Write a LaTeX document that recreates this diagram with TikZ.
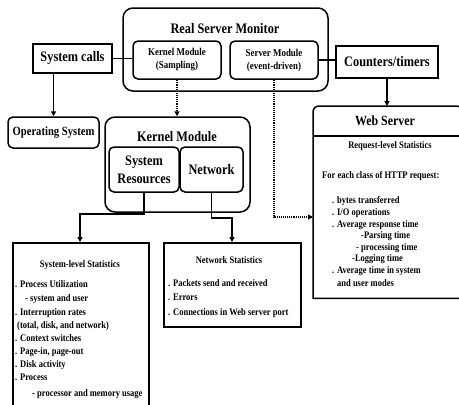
\documentclass[tikz,border=0pt]{standalone}
\usepackage{fontspec}
\setmainfont{Liberation Serif}[FakeStretch=0.85]
\usetikzlibrary{arrows.meta}
\begin{document}
\begin{tikzpicture}[x=1pt,y=-1pt,
  box/.style={draw, line width=1.5pt, inner sep=0pt},
  rbox/.style={box, rounded corners=5pt},
  big/.style={font=\fontsize{14.5}{18}\selectfont\bfseries},
  mid/.style={font=\fontsize{10.5}{13}\selectfont\bfseries},
  txt/.style={font=\fontsize{10}{12}\selectfont\bfseries, inner sep=0pt, anchor=base west},
  ttl/.style={font=\fontsize{10}{12}\selectfont\bfseries, inner sep=0pt, anchor=base},
  conn/.style={line width=1.8pt},
  arr/.style={conn, -{Triangle[length=5pt,width=5pt]}},
  dotconn/.style={line width=1.4pt, dash pattern=on 1pt off 0.9pt, -{Triangle[length=5pt,width=5pt]}}
]
\useasboundingbox (0,0) rectangle (459,405);

% Real Server Monitor
\node[box, rounded corners=10pt, minimum width=205pt, minimum height=83pt] (rsm) at (225.5,49.5) {};
\node[big] (rsmt) at (225,29) {Real Server Monitor};
\node[rbox, mid, minimum width=88pt, minimum height=38pt, align=center] (kms) at (177,60) {Kernel Module\\(Sampling)};
\node[rbox, mid, minimum width=88pt, minimum height=38pt, align=center] (sm) at (274,60) {Server Module\\(event-driven)};

\node[box, big, minimum width=79pt, minimum height=29pt] (sc) at (72.5,58.5) {System calls};
\node[box, big, minimum width=102pt, minimum height=32pt] (ct) at (387,62) {Counters/timers};
\node[rbox, font=\fontsize{12.5}{14}\selectfont\bfseries, minimum width=91pt, minimum height=31pt] (os) at (53.5,132.5) {Operating System};

% Kernel Module
\node[box, rounded corners=10pt, minimum width=145pt, minimum height=95pt] (km) at (177.5,164.5) {};
\node[big] (kmt) at (177,137) {Kernel Module};
\node[rbox, big, minimum width=70pt, minimum height=45pt, align=center] (sr) at (144,169.5) {System\\Resources};
\node[rbox, big, minimum width=63pt, minimum height=45pt] (nw) at (211.5,169.5) {Network};

% Web Server
\node[minimum width=149pt, minimum height=192pt, inner sep=0pt, anchor=north west] (ws) at (313,106) {};
\draw[line width=1.5pt] (ws.south west) [rounded corners=6pt] -- (ws.north west) -- (ws.north east) [sharp corners] -- (ws.south east) -- cycle;
\coordinate (wsh) at (313,136);
\draw[line width=1.5pt] (wsh) -- (wsh -| ws.east);
\node[font=\fontsize{14}{16}\selectfont\bfseries] (wst) at (385,121) {Web Server};
\node[ttl] (w0) at (390,148) {Request-level Statistics};
\node[txt] (w1) at (322,178) {For each class of HTTP request:};
\node[txt] (w2) at (332,203) {. bytes transferred};
\node[txt] (w3) at (332,215) {. I/O operations};
\node[txt] (w4) at (332,227) {. Average response time};
\node[txt] (w5) at (361,238) {-Parsing time};
\node[txt] (w6) at (356,250) {- processing time};
\node[txt] (w7) at (352,261) {-Logging time};
\node[txt] (w8) at (332,273) {. Average time in system};
\node[txt] (w9) at (337,286) {and user modes};

% System-level Statistics
\node[box, minimum width=136pt, minimum height=172pt, anchor=north west] (sls) at (12,242) {};
\node[ttl] (s0) at (80,267) {System-level Statistics};
\node[txt] (s1) at (15,287) {. Process Utilization};
\node[txt] (s2) at (25,301) {- system and user};
\node[txt] (s3) at (15,315) {. Interruption rates};
\node[txt] (s4) at (17,328) {(total, disk, and network)};
\node[txt] (s5) at (15,341) {. Context switches};
\node[txt] (s6) at (15,354) {. Page-in, page-out};
\node[txt] (s7) at (15,367) {. Disk activity};
\node[txt] (s8) at (15,380) {. Process};
\node[txt] (s9) at (32,396) {- processor and memory usage};

% Network Statistics
\node[box, minimum width=137pt, minimum height=84pt, anchor=north west] (ns) at (163,242) {};
\node[ttl] (n0) at (229,263) {Network Statistics};
\node[txt] (n1) at (168,286) {. Packets send and received};
\node[txt] (n2) at (168,300) {. Errors};
\node[txt] (n3) at (168,315) {. Connections in Web server port};

% connectors
\draw[conn] (sc.east) -- (kms.west |- sc.east);
\draw[conn] (sm.east) -- (ct.west |- sm.east);
\draw[arr] (sc.south -| os.north) -- (os.north);
\draw[arr] (ct.south) -- (ct.south |- ws.north);
\draw[dotconn] (kms.south) -- (km.north -| kms.south);
\coordinate (wsin) at (313,217);
\draw[dotconn] (sm.south) |- (wsin);
\coordinate (slsin) at (80,242);
\coordinate (nsin) at (232,242);
\draw[arr] (sr.south) -- ++(0,21) -| (slsin);
\draw[arr] (nw.south) -- ++(0,25) -| (nsin);
\end{tikzpicture}
\end{document}
